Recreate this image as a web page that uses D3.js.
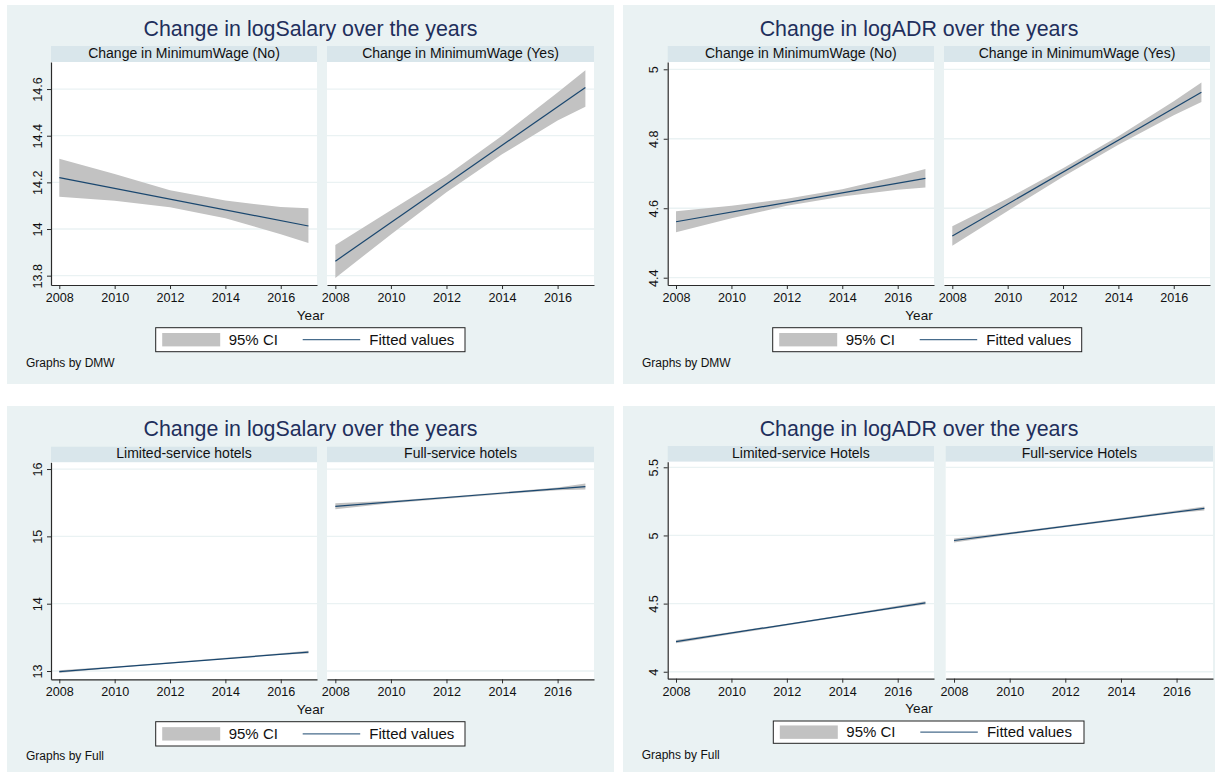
<!DOCTYPE html>
<html>
<head>
<meta charset="utf-8">
<script src="https://cdn.jsdelivr.net/npm/d3@7/dist/d3.min.js"></script>
<style>
  html, body { margin: 0; padding: 0; background: #ffffff; }
  svg { display: block; font-family: "Liberation Sans", Arial, Helvetica, sans-serif; }
</style>
</head>
<body>
<svg id="chart" width="1226" height="776"></svg>
<script>
// ---------------- data ----------------
const fitYears = [2008, 2017];
const ciYears = [2008, 2010, 2012, 2014, 2016, 2017];
const xTickYears = [2008, 2010, 2012, 2014, 2016];

// logSalary by DMW
const salaryDmwNoFit = [14.220, 14.013];
const salaryDmwNoLo  = [14.138, 14.121, 14.093, 14.046, 13.978, 13.940];
const salaryDmwNoHi  = [14.301, 14.236, 14.166, 14.122, 14.094, 14.089];
const salaryDmwYesFit = [13.862, 14.607];
const salaryDmwYesLo  = [13.790, 13.977, 14.158, 14.320, 14.465, 14.524];
const salaryDmwYesHi  = [13.932, 14.080, 14.228, 14.400, 14.585, 14.681];
const salaryDmwTicks = [13.8, 14, 14.2, 14.4, 14.6];

// logADR by DMW
const adrDmwNoFit = [4.561, 4.686];
const adrDmwNoLo  = [4.531, 4.571, 4.607, 4.634, 4.653, 4.660];
const adrDmwNoHi  = [4.591, 4.607, 4.627, 4.655, 4.692, 4.713];
const adrDmwYesFit = [4.520, 4.934];
const adrDmwYesLo  = [4.492, 4.592, 4.691, 4.783, 4.868, 4.906];
const adrDmwYesHi  = [4.548, 4.628, 4.715, 4.807, 4.908, 4.962];
const adrDmwTicks = [4.4, 4.6, 4.8, 5];

// logSalary by Full
const salaryFullLimFit = [12.990, 13.280];
const salaryFullLimLo  = [12.970, 13.048, 13.113, 13.178, 13.241, 13.260];
const salaryFullLimHi  = [13.010, 13.068, 13.131, 13.196, 13.264, 13.300];
const salaryFullFullFit = [15.446, 15.740];
const salaryFullFullLo  = [15.401, 15.490, 15.560, 15.625, 15.685, 15.695];
const salaryFullFullHi  = [15.491, 15.530, 15.588, 15.655, 15.725, 15.785];
const salaryFullTicks = [13, 14, 15, 16];

// logADR by Full
const adrFullLimFit = [4.221, 4.505];
const adrFullLimLo  = [4.209, 4.275, 4.339, 4.403, 4.466, 4.493];
const adrFullLimHi  = [4.233, 4.291, 4.353, 4.417, 4.484, 4.517];
const adrFullFullFit = [4.963, 5.198];
const adrFullFullLo  = [4.948, 5.006, 5.060, 5.112, 5.165, 5.183];
const adrFullFullHi  = [4.978, 5.024, 5.074, 5.128, 5.183, 5.213];
const adrFullTicks = [4, 4.5, 5, 5.5];

const legendLabels = ["95% CI", "Fitted values"];

// ---------------- style ----------------
const BG = "#eaf2f3", STRIP = "#d9e6eb", GRID = "#eaf2f3";
const CI_COL = "#c2c2c2", FIT_COL = "#1a476f", TITLE_COL = "#1f2f5c", AXIS_COL = "#2a2a2a";

const charts = [
  { bg: [7, 5, 614, 384], title: "Change in logSalary over the years", titleY: 35.5,
    strip: [46, 62], plot: [62, 285], yDomain: [13.76, 14.716], yTicks: salaryDmwTicks,
    tickLabelY: 301.7, yearY: 320, legend: [155.7, 327.7, 465, 351.7],
    by: "Graphs by DMW", byPos: [26, 366.7],
    panels: [
      { x: [51, 317], label: "Change in MinimumWage (No)", fit: salaryDmwNoFit, lo: salaryDmwNoLo, hi: salaryDmwNoHi },
      { x: [327, 594], label: "Change in MinimumWage (Yes)", fit: salaryDmwYesFit, lo: salaryDmwYesLo, hi: salaryDmwYesHi }
    ] },
  { bg: [623, 5, 1215, 384], title: "Change in logADR over the years", titleY: 35.5,
    strip: [46, 62], plot: [62, 285], yDomain: [4.379, 5.021], yTicks: adrDmwTicks,
    tickLabelY: 301.7, yearY: 320, legend: [772.7, 327.7, 1081.7, 351.7],
    by: "Graphs by DMW", byPos: [642, 366.7],
    panels: [
      { x: [667.7, 934], label: "Change in MinimumWage (No)", fit: adrDmwNoFit, lo: adrDmwNoLo, hi: adrDmwNoHi },
      { x: [944, 1210], label: "Change in MinimumWage (Yes)", fit: adrDmwYesFit, lo: adrDmwYesLo, hi: adrDmwYesHi }
    ] },
  { bg: [7, 406, 614, 772], title: "Change in logSalary over the years", titleY: 435.7,
    strip: [446.7, 462.3], plot: [462.3, 679.3], yDomain: [12.877, 16.1], yTicks: salaryFullTicks,
    tickLabelY: 696.5, yearY: 713.5, legend: [155.7, 721.7, 465, 746],
    by: "Graphs by Full", byPos: [26, 760],
    panels: [
      { x: [51, 317], label: "Limited-service hotels", fit: salaryFullLimFit, lo: salaryFullLimLo, hi: salaryFullLimHi },
      { x: [327, 594], label: "Full-service hotels", fit: salaryFullFullFit, lo: salaryFullFullLo, hi: salaryFullFullHi }
    ] },
  { bg: [623, 406, 1215, 772], title: "Change in logADR over the years", titleY: 435.7,
    strip: [446, 461.7], plot: [461.7, 678.7], yDomain: [3.949, 5.541], yTicks: adrFullTicks,
    tickLabelY: 696, yearY: 713, legend: [773.3, 721, 1084, 743.3],
    by: "Graphs by Full", byPos: [641.7, 759],
    panels: [
      { x: [667.7, 934], label: "Limited-service Hotels", fit: adrFullLimFit, lo: adrFullLimLo, hi: adrFullLimHi },
      { x: [945.7, 1213], label: "Full-service Hotels", fit: adrFullFullFit, lo: adrFullFullLo, hi: adrFullFullHi }
    ] }
];

const svg = d3.select("#chart");

charts.forEach(c => {
  const g = svg.append("g");
  const [bx0, by0, bx1, by1] = c.bg;
  g.append("rect").attr("x", bx0).attr("y", by0).attr("width", bx1 - bx0).attr("height", by1 - by0).attr("fill", BG);
  const cx = (bx0 + bx1) / 2;
  g.append("text").attr("x", cx).attr("y", c.titleY).attr("text-anchor", "middle")
    .attr("font-size", 21.4).attr("fill", TITLE_COL).text(c.title);

  const y = d3.scaleLinear().domain(c.yDomain).range([c.plot[1], c.plot[0]]);

  c.panels.forEach((p, i) => {
    const x = d3.scaleLinear().domain([2007.70, 2017.31]).range(p.x);
    // strip
    g.append("rect").attr("x", p.x[0]).attr("y", c.strip[0]).attr("width", p.x[1] - p.x[0])
      .attr("height", c.strip[1] - c.strip[0]).attr("fill", STRIP);
    g.append("text").attr("x", (p.x[0] + p.x[1]) / 2).attr("y", c.strip[1] - 4)
      .attr("text-anchor", "middle").attr("font-size", 14).attr("fill", "#111").text(p.label);
    // plot area
    g.append("rect").attr("x", p.x[0]).attr("y", c.plot[0]).attr("width", p.x[1] - p.x[0])
      .attr("height", c.plot[1] - c.plot[0]).attr("fill", "#ffffff");
    // grid
    g.append("g").selectAll("line").data(c.yTicks).join("line")
      .attr("x1", p.x[0]).attr("x2", p.x[1])
      .attr("y1", d => y(d)).attr("y2", d => y(d))
      .attr("stroke", GRID).attr("stroke-width", 1.3);
    // CI band
    const band = ciYears.map((yr, k) => ({ yr, lo: p.lo[k], hi: p.hi[k] }));
    g.append("path").datum(band)
      .attr("d", d3.area().x(d => x(d.yr)).y0(d => y(d.lo)).y1(d => y(d.hi)))
      .attr("fill", CI_COL);
    // fitted line
    const fit = fitYears.map((yr, k) => ({ yr, v: p.fit[k] }));
    g.append("path").datum(fit)
      .attr("d", d3.line().x(d => x(d.yr)).y(d => y(d.v)))
      .attr("fill", "none").attr("stroke", FIT_COL).attr("stroke-width", 1.2);
    // x axis
    const xa = g.append("g").attr("transform", `translate(0,${c.plot[1]})`)
      .call(d3.axisBottom(x).tickValues(xTickYears).tickFormat(d3.format("d")).tickSize(4).tickSizeOuter(0));
    xa.select(".domain").attr("stroke", AXIS_COL).attr("stroke-width", 1.2);
    xa.selectAll(".tick line").attr("stroke", AXIS_COL);
    xa.selectAll(".tick text").attr("font-size", 12.6).attr("fill", "#111")
      .attr("font-family", "Liberation Sans, Arial, sans-serif")
      .attr("y", c.tickLabelY - c.plot[1]).attr("dy", 0);
    if (i === 0) {
      const ya = g.append("g").attr("transform", `translate(${p.x[0]},0)`)
        .call(d3.axisLeft(y).tickValues(c.yTicks).tickFormat(d3.format("~g")).tickSize(4).tickSizeOuter(0));
      ya.select(".domain").attr("stroke", AXIS_COL).attr("stroke-width", 1.2);
      ya.selectAll(".tick line").attr("stroke", AXIS_COL);
      ya.selectAll(".tick text").attr("font-size", 12.6).attr("fill", "#111")
        .attr("font-family", "Liberation Sans, Arial, sans-serif")
        .attr("x", null).attr("dy", null)
        .attr("text-anchor", "middle")
        .attr("transform", "translate(-9.3,0) rotate(-90)");
    }
  });

  // Year label
  g.append("text").attr("x", cx).attr("y", c.yearY).attr("text-anchor", "middle")
    .attr("font-size", 13.5).attr("fill", "#111").text("Year");

  // legend
  const [lx0, ly0, lx1, ly1] = c.legend;
  const lh = ly1 - ly0, lm = (ly0 + ly1) / 2;
  g.append("rect").attr("x", lx0).attr("y", ly0).attr("width", lx1 - lx0).attr("height", lh)
    .attr("fill", "#ffffff").attr("stroke", "#222").attr("stroke-width", 1);
  g.append("rect").attr("x", lx0 + 6.5).attr("y", lm - 6.7).attr("width", 58).attr("height", 13.4).attr("fill", CI_COL);
  g.append("text").attr("x", lx0 + 73).attr("y", lm + 5.2).attr("font-size", 15).attr("fill", "#111").text(legendLabels[0]);
  g.append("line").attr("x1", lx0 + 147).attr("x2", lx0 + 204.5).attr("y1", lm).attr("y2", lm)
    .attr("stroke", FIT_COL).attr("stroke-width", 1.3).attr("stroke-opacity", 0.8);
  g.append("text").attr("x", lx0 + 213.6).attr("y", lm + 5.2).attr("font-size", 15).attr("fill", "#111").text(legendLabels[1]);

  // graphs by
  g.append("text").attr("x", c.byPos[0]).attr("y", c.byPos[1]).attr("font-size", 12).attr("fill", "#111").text(c.by);
});
</script>
</body>
</html>
